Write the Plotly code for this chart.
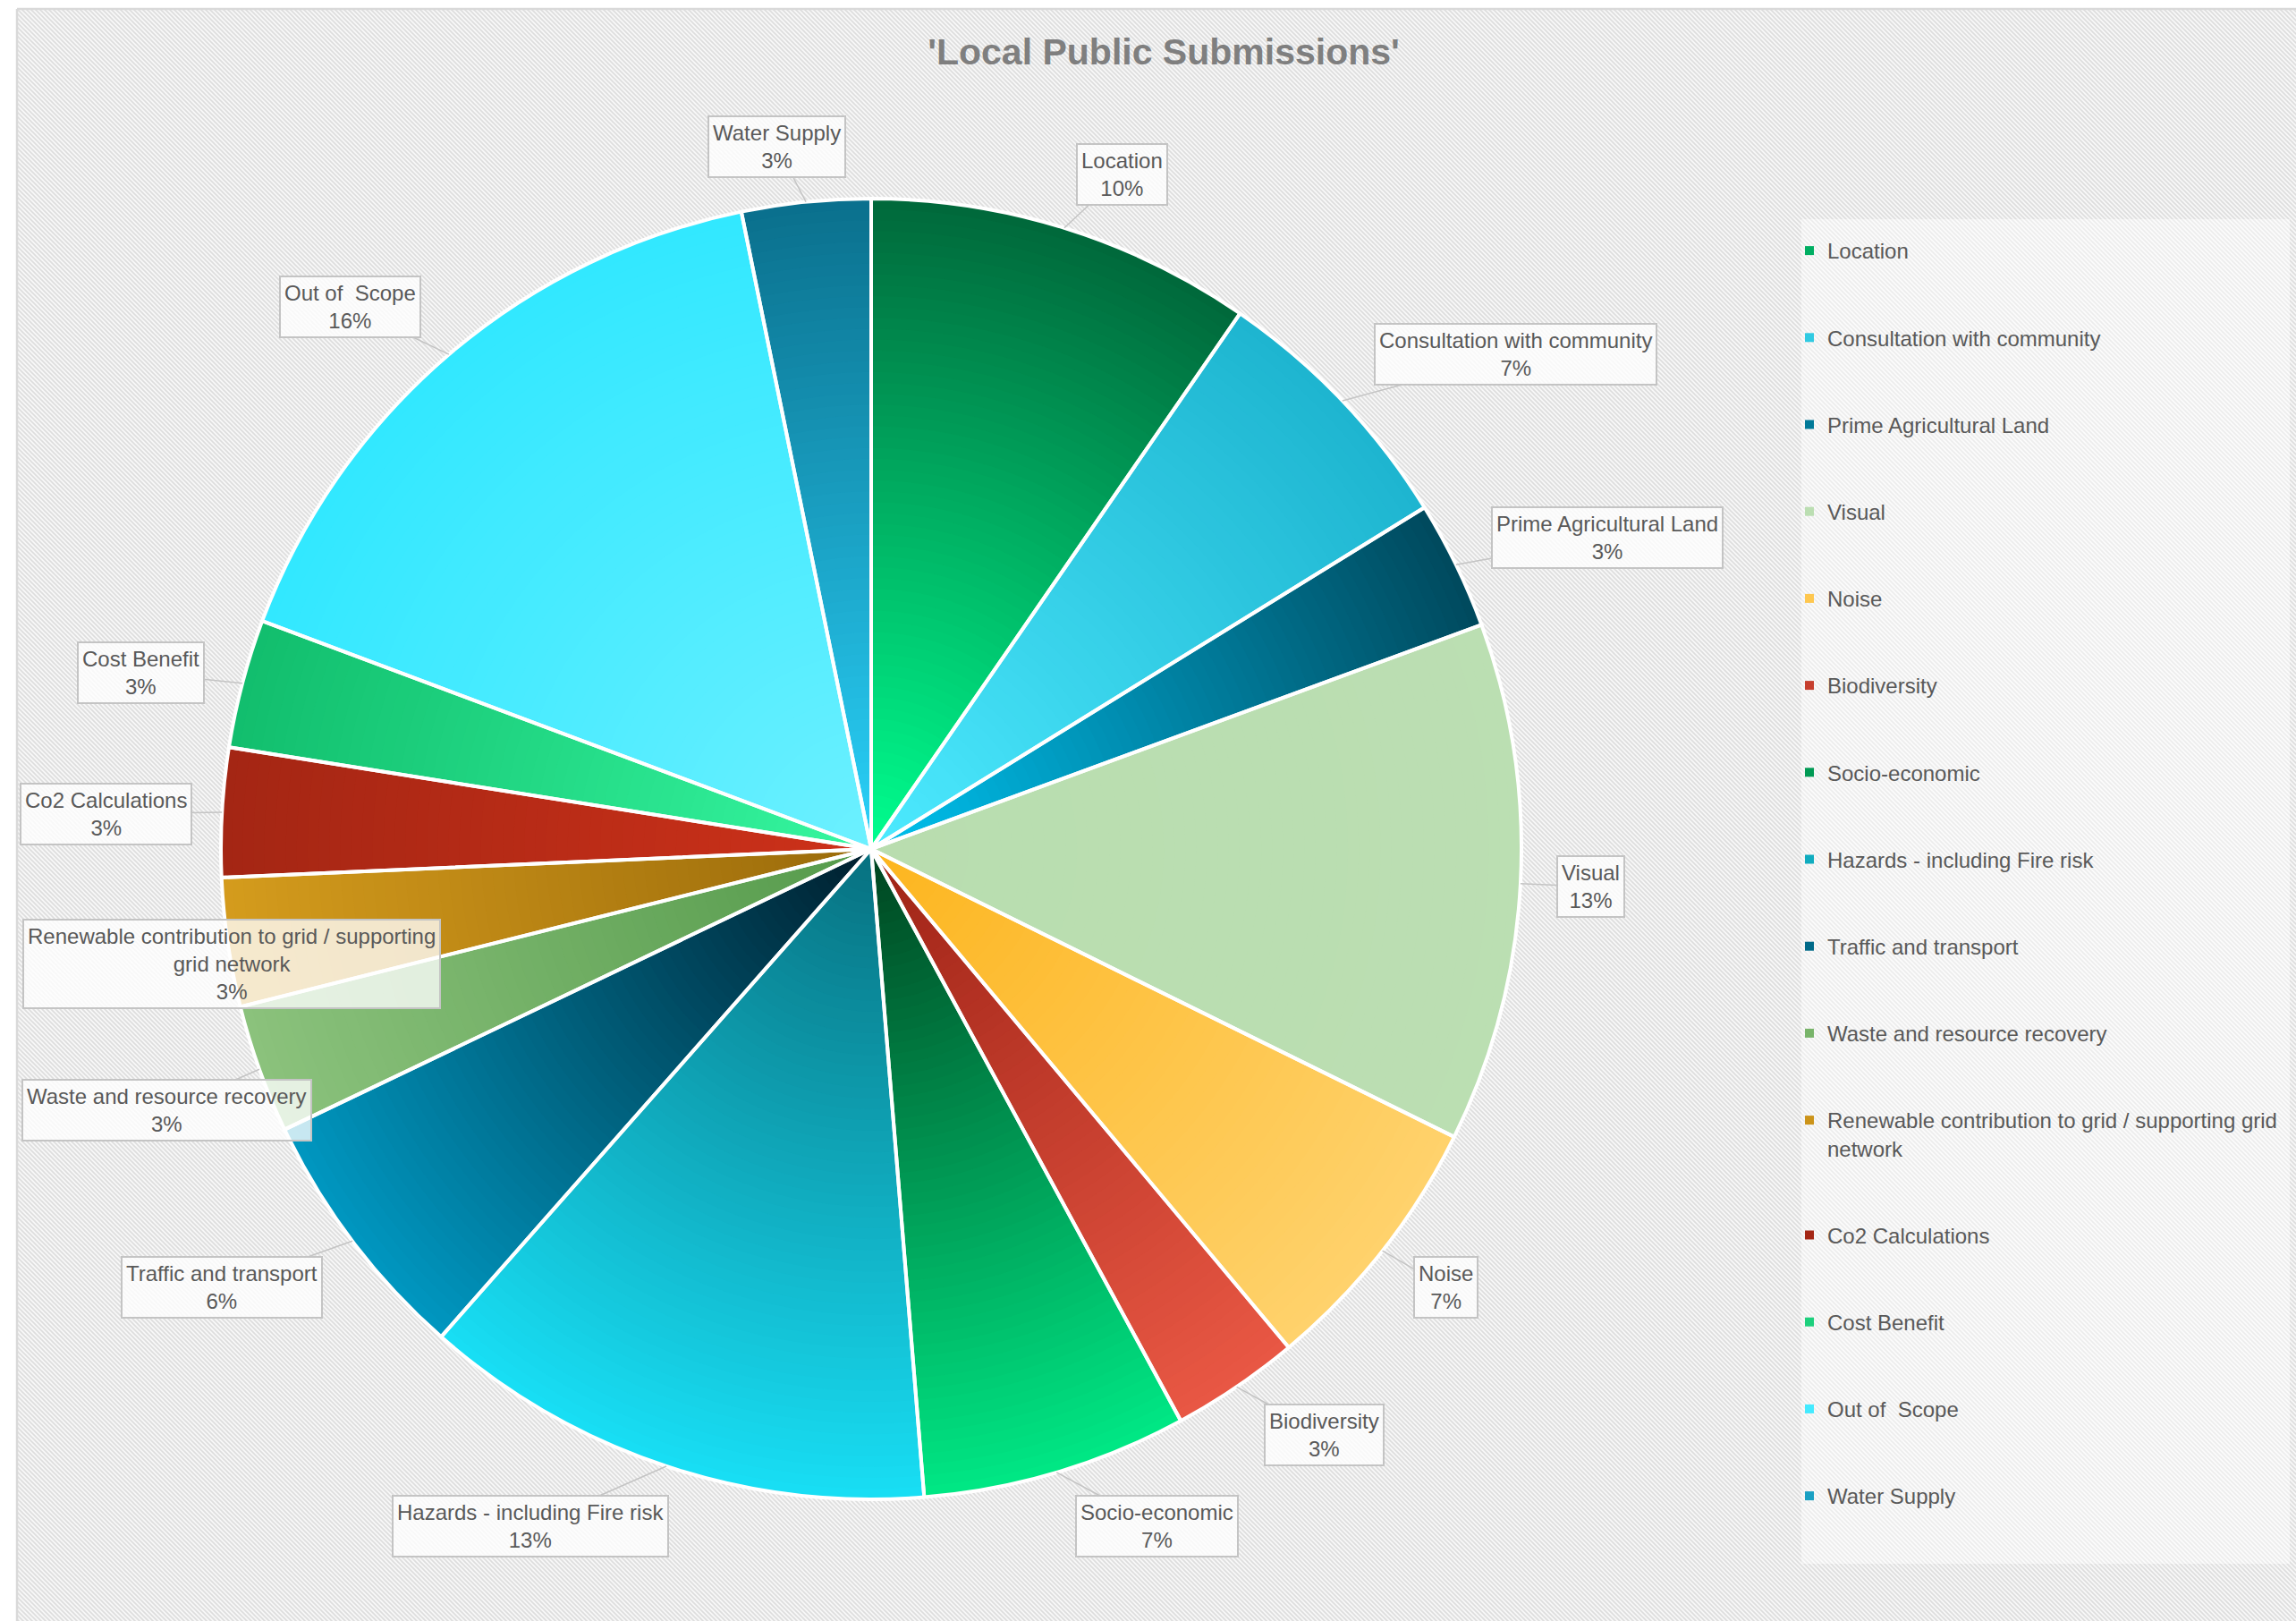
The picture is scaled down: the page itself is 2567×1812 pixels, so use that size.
import base64
import textwrap

import numpy as np
import plotly.graph_objects as go

# ---------------------------------------------------------------- data
categories = [
    "Location",
    "Consultation with community",
    "Prime Agricultural Land",
    "Visual",
    "Noise",
    "Biodiversity",
    "Socio-economic",
    "Hazards - including Fire risk",
    "Traffic and transport",
    "Waste and resource recovery",
    "Renewable contribution to grid / supporting grid network",
    "Co2 Calculations",
    "Cost Benefit",
    "Out of  Scope",
    "Water Supply",
]
shares = [9.6, 6.6, 3.2, 12.9, 6.6, 3.2, 6.6, 12.8, 6.4, 3.2, 3.2, 3.2, 3.2, 16.1, 3.2]

# ---------------------------------------------------------------- styling
# vertical gradient of each slice: colour at its top edge and at its bottom edge
top_colors = [
    "#005e35", "#14aac6", "#00303f", "#a9d59b", "#fdb51e",
    "#9e2316", "#00431f", "#07707f", "#001e2c", "#559a4b",
    "#9a6a0a", "#5a1208", "#04a85a", "#1de5ff", "#0a6f8c",
]
bottom_colors = [
    "#00ff8f", "#4deaff", "#00c2f0", "#cde8c9", "#ffd980",
    "#ee5b47", "#00f08a", "#1ae8ff", "#00b6e6", "#9acd8a",
    "#fdbe2a", "#ee3a1f", "#36f7a0", "#6cf0ff", "#2ad2fa",
]
# centre of each callout box, in page pixels
label_box_px = [
    (1254, 195), (1694, 396), (1797, 601), (1778, 991), (1616, 1439),
    (1480, 1604), (1293, 1706), (593, 1706), (248, 1439), (186, 1241),
    (259, 1077), (118, 910), (157, 752), (391, 343), (869, 164),
]

W, H = 2567, 1812
CX, CY, R = 974, 949, 727          # pie centre and radius in page pixels
N_BANDS = 60                       # concentric shading bands
TEXT_COLOR = "#595959"
FONT = "Liberation Sans, Arial, sans-serif"


def hex_to_rgb(h):
    h = h.lstrip("#")
    return np.array([int(h[i:i + 2], 16) for i in (0, 2, 4)], float)


def rgb_to_hex(c):
    c = np.clip(np.round(c), 0, 255).astype(int)
    return "#%02x%02x%02x" % tuple(c)


def wrap(text, width, sep="<br>"):
    if len(text) <= width:
        return text
    return sep.join(textwrap.wrap(text, width))


# slice angles (degrees clockwise from 12 o'clock), as the pie lays them out
vals = np.array(shares, float)
frac = vals / vals.sum()
ends = np.cumsum(frac) * 360.0
starts = ends - frac * 360.0


def band_color(i, r):
    """Average colour of slice i's vertical gradient along the arc at radius r (0..1)."""
    a0, a1 = starts[i], ends[i]
    cand = [0.0, np.cos(np.radians(a0)), np.cos(np.radians(a1))]
    if a0 < 180.0 < a1:
        cand.append(-1.0)
    ymax, ymin = max(cand), min(cand)
    ang = np.radians(np.linspace(a0, a1, 31))
    y = r * np.cos(ang)
    t = np.clip((ymax - y) / (ymax - ymin), 0, 1)
    c0, c1 = hex_to_rgb(top_colors[i]), hex_to_rgb(bottom_colors[i])
    cols = c0[None, :] + t[:, None] * (c1 - c0)[None, :]
    return rgb_to_hex(cols.mean(axis=0))


def pie_domain(r_px):
    return dict(
        x=[(CX - r_px) / W, (CX + r_px) / W],
        y=[1 - (CY + r_px) / H, 1 - (CY - r_px) / H],
    )


fig = go.Figure()

# shaded pie: stacked full pies of decreasing radius, each carrying the
# gradient colour for its ring
for k in range(N_BANDS):
    r_out = R * (N_BANDS - k) / N_BANDS
    r_mid = (R * (N_BANDS - k - 0.5) / N_BANDS) / R
    colors = [band_color(i, r_mid) for i in range(len(categories))]
    fig.add_trace(go.Pie(
        labels=categories, values=shares, sort=False, direction="clockwise",
        rotation=0, textinfo="none", hoverinfo="skip", showlegend=False,
        marker=dict(colors=colors, line=dict(width=0)),
        domain=pie_domain(r_out),
    ))

# white slice separators and hover layer
fig.add_trace(go.Pie(
    labels=categories, values=shares, sort=False, direction="clockwise",
    rotation=0, textinfo="none", showlegend=False,
    marker=dict(colors=["rgba(0,0,0,0)"] * len(categories),
                line=dict(color="white", width=4)),
    hovertemplate="%{label}<br>%{percent:.0%}<extra></extra>",
    domain=pie_domain(R),
))

# legend entries
for i, name in enumerate(categories):
    mid = (hex_to_rgb(top_colors[i]) + hex_to_rgb(bottom_colors[i])) / 2
    fig.add_trace(go.Scatter(
        x=[None], y=[None], mode="markers", name=wrap(name, 48),
        legendgroup=name, hoverinfo="skip",
        marker=dict(symbol="square", size=10, color=rgb_to_hex(mid)),
    ))

# callout labels
annotations = []
for i, name in enumerate(categories):
    m = np.radians((starts[i] + ends[i]) / 2)
    tip_x = CX + R * np.sin(m)
    tip_y = CY - R * np.cos(m)
    bx, by = label_box_px[i]
    annotations.append(dict(
        x=tip_x / W, y=1 - tip_y / H, xref="paper", yref="paper",
        ax=bx - tip_x, ay=by - tip_y, axref="pixel", ayref="pixel",
        text=f"{wrap(name, 44)}<br>{frac[i]:.0%}",
        showarrow=True, arrowhead=0, arrowwidth=1.5, arrowcolor="#c4c4c4",
        bordercolor="#c4c4c4", borderwidth=2, borderpad=4,
        bgcolor="rgba(255,255,255,0.78)", align="center",
        font=dict(family=FONT, size=24, color=TEXT_COLOR),
    ))

# diagonal hatch used as the chart background
hx0, hy0 = 19, 10
hw, hh = W - hx0, H - hy0
hatch_svg = (
    f'<svg xmlns="http://www.w3.org/2000/svg" width="{hw}" height="{hh}" '
    f'viewBox="0 0 {hw} {hh}"><defs><pattern id="h" width="5" height="5" '
    f'patternUnits="userSpaceOnUse"><rect width="5" height="5" fill="#f8f8f8"/>'
    f'<path d="M-1,-1 L6,6 M-1,4 L1,6 M4,-1 L6,1" stroke="#dddddd" '
    f'stroke-width="1.6"/></pattern></defs>'
    f'<rect width="100%" height="100%" fill="url(#h)"/></svg>'
)
hatch_uri = "data:image/svg+xml;base64," + base64.b64encode(hatch_svg.encode()).decode()

fig.update_layout(
    width=W, height=H,
    margin=dict(l=0, r=0, t=0, b=0),
    template="none",
    paper_bgcolor="white",
    plot_bgcolor="rgba(0,0,0,0)",
    xaxis=dict(visible=False, fixedrange=True),
    yaxis=dict(visible=False, fixedrange=True),
    title=dict(
        text="'Local Public Submissions'",
        x=1301 / W, y=1 - 58 / H, xref="paper", yref="paper",
        xanchor="center", yanchor="middle",
        font=dict(family=FONT, size=41, color="#7f7f7f", weight="bold"),
    ),
    legend=dict(
        x=2003 / W, y=1 - 258 / H, xanchor="left", yanchor="top",
        bgcolor="rgba(0,0,0,0)", borderwidth=0,
        font=dict(family=FONT, size=24, color=TEXT_COLOR),
        tracegroupgap=63, valign="top", traceorder="grouped",
    ),
    annotations=annotations,
    images=[dict(
        source=hatch_uri, xref="paper", yref="paper",
        x=hx0 / W, y=1 - hy0 / H, sizex=hw / W, sizey=hh / H,
        xanchor="left", yanchor="top", sizing="stretch", layer="below",
    )],
    shapes=[
        dict(type="rect", xref="paper", yref="paper",
             x0=2014 / W, x1=2560 / W, y0=1 - 1748 / H, y1=1 - 245 / H,
             fillcolor="rgba(255,255,255,0.45)", line=dict(width=0), layer="below"),
        dict(type="line", xref="paper", yref="paper",
             x0=hx0 / W, x1=hx0 / W, y0=0, y1=1 - hy0 / H,
             line=dict(color="#d9d9d9", width=2.5), layer="below"),
        dict(type="line", xref="paper", yref="paper",
             x0=hx0 / W, x1=1, y0=1 - hy0 / H, y1=1 - hy0 / H,
             line=dict(color="#d9d9d9", width=2.5), layer="below"),
    ],
)

fig.write_html("out.html")
